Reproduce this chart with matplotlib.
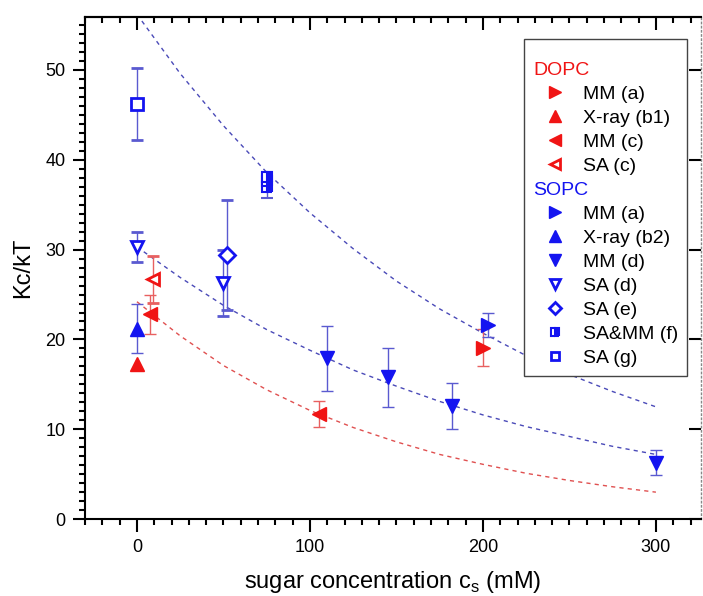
import matplotlib
matplotlib.use("Agg")
import matplotlib.pyplot as plt
from matplotlib.lines import Line2D
from matplotlib.ticker import MultipleLocator

plt.rcParams['font.family'] = ['Liberation Sans', 'DejaVu Sans']
plt.rcParams['mathtext.fontset'] = 'custom'
plt.rcParams['mathtext.rm'] = 'Liberation Sans'

RED = '#f01414'
BLUE = '#1414f0'
RED_ERR = '#e86060'
BLUE_ERR = '#5a5ad0'

# DOPC data
dopc_mm_a_x = [200]
dopc_mm_a_y = [19.1]
dopc_mm_a_err = [2.1]
dopc_xray_x = [0]
dopc_xray_y = [17.3]
dopc_mm_c_x = [7.5, 105]
dopc_mm_c_y = [22.8, 11.7]
dopc_mm_c_err = [2.2, 1.5]
dopc_sa_c_x = [9]
dopc_sa_c_y = [26.7]
dopc_sa_c_err = [2.6]

# SOPC data
sopc_mm_a_x = [203]
sopc_mm_a_y = [21.6]
sopc_mm_a_err = [1.3]
sopc_xray_x = [0]
sopc_xray_y = [21.2]
sopc_xray_err = [2.7]
sopc_mm_d_x = [110, 145, 182, 300]
sopc_mm_d_y = [17.9, 15.8, 12.6, 6.3]
sopc_mm_d_err = [3.6, 3.3, 2.6, 1.4]
sopc_sa_d_x = [0, 50]
sopc_sa_d_y = [30.3, 26.3]
sopc_sa_d_err = [1.7, 3.7]
sopc_sa_e_x = [52]
sopc_sa_e_y = [29.4]
sopc_sa_e_err = [6.1]
sopc_samm_f_x = [75, 75, 75]
sopc_samm_f_y = [37.0, 37.6, 38.1]
sopc_samm_f_err = [1.2, 0.9, 0.5]
sopc_sa_g_x = [0]
sopc_sa_g_y = [46.2]
sopc_sa_g_err = [4.0]

# dashed fit curves
fit_x = [0, 25, 50, 75, 100, 125, 150, 175, 200, 225, 250, 275, 300]
fit_upper = [56.2, 49.6, 43.8, 38.6, 34.1, 30.1, 26.5, 23.4, 20.7, 18.2, 16.1, 14.2, 12.5]
fit_sopc = [30.3, 26.9, 23.8, 21.1, 18.8, 16.6, 14.8, 13.1, 11.6, 10.3, 9.2, 8.1, 7.2]
fit_dopc = [24.2, 20.4, 17.1, 14.4, 12.1, 10.2, 8.6, 7.2, 6.1, 5.1, 4.3, 3.6, 3.0]

fig = plt.figure(figsize=(7.03, 5.96), dpi=100)
ax = fig.add_axes([0.121, 0.129, 0.876, 0.8425])

dash = (0, (3, 3))
ax.plot(fit_x, fit_upper, color='#4a4ab8', lw=1, linestyle=dash)
ax.plot(fit_x, fit_sopc, color='#4a4ab8', lw=1, linestyle=dash)
ax.plot(fit_x, fit_dopc, color='#e05050', lw=1, linestyle=dash)

ms = 10
eb = dict(elinewidth=1, capsize=4, capthick=1, linestyle='none')

ax.errorbar(dopc_mm_a_x, dopc_mm_a_y, yerr=dopc_mm_a_err, ecolor=RED_ERR, marker='>', ms=ms,
            mfc=RED, mec=RED, **eb)
ax.plot(dopc_xray_x, dopc_xray_y, marker='^', ms=ms, mfc=RED, mec=RED, linestyle='none')
ax.errorbar(dopc_mm_c_x, dopc_mm_c_y, yerr=dopc_mm_c_err, ecolor=RED_ERR, marker='<', ms=ms,
            mfc=RED, mec=RED, **eb)
ax.errorbar(dopc_sa_c_x, dopc_sa_c_y, yerr=dopc_sa_c_err, ecolor=RED_ERR, marker='<', ms=ms - 1,
            mfc='white', mec=RED, mew=2, **eb)

ax.errorbar(sopc_mm_a_x, sopc_mm_a_y, yerr=sopc_mm_a_err, ecolor=BLUE_ERR, marker='>', ms=ms,
            mfc=BLUE, mec=BLUE, **eb)
ax.errorbar(sopc_xray_x, sopc_xray_y, yerr=sopc_xray_err, ecolor=BLUE_ERR, marker='^', ms=ms,
            mfc=BLUE, mec=BLUE, **eb)
ax.errorbar(sopc_mm_d_x, sopc_mm_d_y, yerr=sopc_mm_d_err, ecolor=BLUE_ERR, marker='v', ms=ms,
            mfc=BLUE, mec=BLUE, **eb)
ax.errorbar(sopc_sa_d_x, sopc_sa_d_y, yerr=sopc_sa_d_err, ecolor=BLUE_ERR, marker='v', ms=ms - 1,
            mfc='white', mec=BLUE, mew=2, **eb)
ax.errorbar(sopc_sa_e_x, sopc_sa_e_y, yerr=sopc_sa_e_err, ecolor=BLUE_ERR, marker='D', ms=ms - 2,
            mfc='white', mec=BLUE, mew=2, **eb)
ax.errorbar(sopc_samm_f_x, sopc_samm_f_y, yerr=sopc_samm_f_err, ecolor=BLUE_ERR, marker='s', ms=ms - 3,
            fillstyle='right', mfc=BLUE, mfcalt='white', mec=BLUE, mew=1.5, **eb)
ax.errorbar(sopc_sa_g_x, sopc_sa_g_y, yerr=sopc_sa_g_err, ecolor=BLUE_ERR, marker='s', ms=ms - 2,
            mfc='white', mec=BLUE, mew=2, **eb)

# axes
ax.set_xlim(-30, 326)
ax.set_ylim(0, 55.9)
ax.xaxis.set_major_locator(MultipleLocator(100))
ax.xaxis.set_minor_locator(MultipleLocator(10))
ax.yaxis.set_major_locator(MultipleLocator(10))
ax.yaxis.set_minor_locator(MultipleLocator(1))
ax.tick_params(which='both', direction='out', width=1.5, labelsize=13, pad=5)
ax.tick_params(which='major', length=9)
ax.tick_params(which='minor', length=4.5)
for s in ['left', 'bottom', 'top']:
    ax.spines[s].set_linewidth(1.5)
ax.spines['right'].set_linestyle((0, (1, 2)))
ax.spines['right'].set_color('#888888')
ax.spines['right'].set_linewidth(1)

# top axis ticks (inward)
top = ax.secondary_xaxis('top')
top.xaxis.set_major_locator(MultipleLocator(100))
top.xaxis.set_minor_locator(MultipleLocator(10))
top.tick_params(which='both', direction='in', width=1.5, labeltop=False)
top.tick_params(which='major', length=9)
top.tick_params(which='minor', length=4.5)
top.spines['top'].set_linewidth(1.5)

# right axis ticks (inward, major only)
right = ax.secondary_yaxis('right')
right.yaxis.set_major_locator(MultipleLocator(10))
right.tick_params(which='major', direction='in', width=1.5, length=9, labelright=False)
right.tick_params(which='minor', length=0)
right.spines['right'].set_visible(False)

ax.set_xlabel('sugar concentration c$_{\\mathregular{s}}$ (mM)', fontsize=17, labelpad=10)
ax.set_ylabel('Kc/kT', fontsize=17, labelpad=8)

# legend with group headers
blank = Line2D([], [], linestyle='none', marker=None)
lm = 8
handles = [
    blank,
    Line2D([], [], linestyle='none', marker='>', ms=lm, mfc=RED, mec=RED),
    Line2D([], [], linestyle='none', marker='^', ms=lm, mfc=RED, mec=RED),
    Line2D([], [], linestyle='none', marker='<', ms=lm, mfc=RED, mec=RED),
    Line2D([], [], linestyle='none', marker='<', ms=lm - 1, mfc='white', mec=RED, mew=2),
    blank,
    Line2D([], [], linestyle='none', marker='>', ms=lm, mfc=BLUE, mec=BLUE),
    Line2D([], [], linestyle='none', marker='^', ms=lm, mfc=BLUE, mec=BLUE),
    Line2D([], [], linestyle='none', marker='v', ms=lm, mfc=BLUE, mec=BLUE),
    Line2D([], [], linestyle='none', marker='v', ms=lm - 1, mfc='white', mec=BLUE, mew=2),
    Line2D([], [], linestyle='none', marker='D', ms=lm - 2, mfc='white', mec=BLUE, mew=2),
    Line2D([], [], linestyle='none', marker='s', ms=lm - 2, fillstyle='right', mfc=BLUE,
           mfcalt='white', mec=BLUE, mew=1.5),
    Line2D([], [], linestyle='none', marker='s', ms=lm - 2, mfc='white', mec=BLUE, mew=2),
]
labels = ['DOPC', 'MM (a)', 'X-ray (b1)', 'MM (c)', 'SA (c)',
          'SOPC', 'MM (a)', 'X-ray (b2)', 'MM (d)', 'SA (d)', 'SA (e)', 'SA&MM (f)', 'SA (g)']
hl, htp = 2.2, 0.35
leg = ax.legend(handles, labels, loc='upper right', bbox_to_anchor=(0.977, 0.956),
                borderaxespad=0, fontsize=14, frameon=True, fancybox=False, framealpha=1,
                edgecolor='#444444', handlelength=hl, handletextpad=htp,
                labelspacing=0.33, borderpad=0.45, title=' ', title_fontsize=5)
leg.get_frame().set_linewidth(1)
shift = (hl + htp) * 14 * fig.dpi / 72
for i, t in enumerate(leg.get_texts()):
    if labels[i] == 'DOPC':
        t.set_color(RED)
        t.set_x(-shift)
    elif labels[i] == 'SOPC':
        t.set_color(BLUE)
        t.set_x(-shift)

fig.savefig('out.png', dpi=100)
